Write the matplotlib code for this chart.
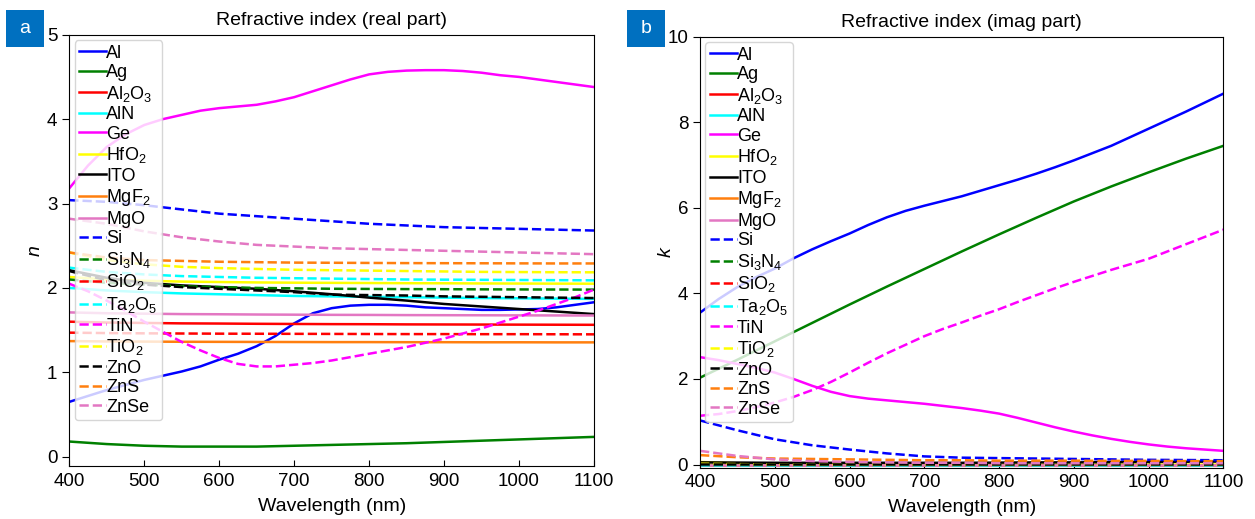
import matplotlib
matplotlib.use("Agg")
import matplotlib.pyplot as plt
from matplotlib.patches import Rectangle

plt.rcParams['font.family'] = ['Liberation Sans', 'DejaVu Sans']
plt.rcParams['mathtext.fontset'] = 'custom'
plt.rcParams['mathtext.rm'] = 'Liberation Sans'
plt.rcParams['mathtext.it'] = 'Liberation Sans:italic'

# wavelength grids (nm): 50 nm for the flat curves, 25 nm for the curvy ones
wl = [400, 450, 500, 550, 600, 650, 700, 750, 800, 850, 900, 950, 1000, 1050, 1100]
wl_f = [400, 425, 450, 475, 500, 525, 550, 575, 600, 625, 650, 675, 700, 725, 750,
        775, 800, 825, 850, 875, 900, 925, 950, 975, 1000, 1025, 1050, 1075, 1100]

materials = ['Al', 'Ag', 'Al$_2$O$_3$', 'AlN', 'Ge', 'HfO$_2$', 'ITO', 'MgF$_2$', 'MgO',
             'Si', 'Si$_3$N$_4$', 'SiO$_2$', 'Ta$_2$O$_5$', 'TiN', 'TiO$_2$', 'ZnO', 'ZnS', 'ZnSe']

# real part n
n_Al = [0.65, 0.72, 0.79, 0.85, 0.91, 0.96, 1.01, 1.07, 1.15, 1.22, 1.31, 1.43, 1.58, 1.70, 1.76,
        1.79, 1.80, 1.80, 1.79, 1.77, 1.76, 1.75, 1.74, 1.74, 1.745, 1.75, 1.77, 1.80, 1.83]
n_Ag = [0.18, 0.15, 0.13, 0.12, 0.12, 0.12, 0.13, 0.14, 0.15, 0.16, 0.175, 0.19, 0.205, 0.22, 0.235]
n_Al2O3 = [1.60, 1.59, 1.585, 1.58, 1.578, 1.575, 1.573, 1.571, 1.57, 1.568, 1.567, 1.566, 1.565, 1.564, 1.563]
n_AlN = [2.00, 1.97, 1.95, 1.935, 1.925, 1.915, 1.905, 1.90, 1.895, 1.89, 1.885, 1.88, 1.877, 1.873, 1.87]
n_Ge = [3.18, 3.45, 3.67, 3.82, 3.93, 4.00, 4.05, 4.10, 4.13, 4.15, 4.17, 4.21, 4.26, 4.33, 4.40,
        4.47, 4.53, 4.56, 4.575, 4.58, 4.58, 4.57, 4.55, 4.52, 4.50, 4.47, 4.44, 4.41, 4.38]
n_HfO2 = [2.13, 2.10, 2.085, 2.075, 2.07, 2.065, 2.062, 2.06, 2.058, 2.056, 2.055, 2.053, 2.052, 2.051, 2.05]
n_ITO = [2.21, 2.12, 2.06, 2.03, 2.01, 1.99, 1.96, 1.925, 1.885, 1.85, 1.81, 1.78, 1.75, 1.72, 1.69]
n_MgF2 = [1.37, 1.366, 1.364, 1.362, 1.361, 1.36, 1.359, 1.358, 1.358, 1.357, 1.357, 1.356, 1.356, 1.355, 1.355]
n_MgO = [1.71, 1.70, 1.695, 1.69, 1.688, 1.685, 1.683, 1.681, 1.68, 1.678, 1.677, 1.676, 1.675, 1.674, 1.673]
n_Si = [3.04, 3.02, 2.98, 2.93, 2.88, 2.85, 2.82, 2.79, 2.76, 2.74, 2.72, 2.71, 2.70, 2.69, 2.68]
n_Si3N4 = [2.10, 2.06, 2.04, 2.02, 2.01, 2.0, 1.995, 1.99, 1.988, 1.986, 1.985, 1.983, 1.982, 1.981, 1.98]
n_SiO2 = [1.47, 1.465, 1.462, 1.46, 1.458, 1.457, 1.456, 1.455, 1.454, 1.453, 1.453, 1.452, 1.452, 1.451, 1.45]
n_Ta2O5 = [2.24, 2.19, 2.16, 2.14, 2.13, 2.12, 2.115, 2.11, 2.105, 2.10, 2.098, 2.096, 2.094, 2.092, 2.09]
n_TiN = [2.05, 1.96, 1.85, 1.73, 1.60, 1.48, 1.36, 1.26, 1.17, 1.10, 1.07, 1.07, 1.09, 1.11, 1.14,
         1.18, 1.22, 1.26, 1.30, 1.35, 1.40, 1.46, 1.52, 1.59, 1.66, 1.73, 1.81, 1.89, 1.98]
n_TiO2 = [2.42, 2.33, 2.28, 2.25, 2.235, 2.225, 2.215, 2.21, 2.205, 2.20, 2.195, 2.19, 2.188, 2.186, 2.185]
n_ZnO = [2.20, 2.09, 2.04, 2.01, 1.99, 1.97, 1.95, 1.92, 1.915, 1.91, 1.90, 1.895, 1.89, 1.885, 1.88]
n_ZnS = [2.42, 2.36, 2.33, 2.32, 2.31, 2.305, 2.30, 2.298, 2.296, 2.294, 2.293, 2.292, 2.291, 2.29, 2.29]
n_ZnSe = [2.82, 2.76, 2.67, 2.60, 2.55, 2.51, 2.49, 2.47, 2.46, 2.45, 2.44, 2.43, 2.42, 2.41, 2.40]

# imaginary part k
k_Al = [3.55, 3.87, 4.15, 4.38, 4.58, 4.82, 5.03, 5.22, 5.40, 5.60, 5.78, 5.93, 6.05, 6.16, 6.27,
        6.40, 6.53, 6.66, 6.80, 6.95, 7.11, 7.28, 7.45, 7.65, 7.85, 8.05, 8.25, 8.46, 8.67]
k_Ag = [2.03, 2.45, 2.88, 3.31, 3.74, 4.16, 4.57, 4.98, 5.38, 5.77, 6.15, 6.50, 6.83, 7.15, 7.45]
k_Al2O3 = [0.0] * 15
k_AlN = [0.0] * 15
k_Ge = [2.51, 2.44, 2.35, 2.26, 2.15, 2.00, 1.84, 1.70, 1.60, 1.54, 1.50, 1.46, 1.42, 1.37, 1.32,
        1.26, 1.19, 1.09, 0.98, 0.87, 0.77, 0.68, 0.60, 0.53, 0.47, 0.42, 0.38, 0.35, 0.32]
k_HfO2 = [0.06, 0.03, 0.01, 0.005, 0.0, 0.0, 0.0, 0.0, 0.0, 0.0, 0.0, 0.0, 0.0, 0.0, 0.0]
k_ITO = [0.05, 0.045, 0.04, 0.04, 0.04, 0.04, 0.04, 0.04, 0.045, 0.05, 0.05, 0.055, 0.06, 0.065, 0.07]
k_MgF2 = [0.0] * 15
k_MgO = [0.0] * 15
k_Si = [1.03, 0.80, 0.59, 0.45, 0.35, 0.26, 0.19, 0.16, 0.15, 0.14, 0.13, 0.12, 0.11, 0.105, 0.10]
k_Si3N4 = [0.01] * 15
k_SiO2 = [0.0] * 15
k_Ta2O5 = [0.0] * 15
k_TiN = [1.14, 1.18, 1.25, 1.34, 1.45, 1.58, 1.74, 1.93, 2.15, 2.38, 2.60, 2.80, 3.00, 3.17, 3.32,
         3.48, 3.63, 3.80, 3.96, 4.12, 4.27, 4.41, 4.55, 4.68, 4.81, 4.98, 5.15, 5.32, 5.49]
k_TiO2 = [0.02, 0.01, 0.0, 0.0, 0.0, 0.0, 0.0, 0.0, 0.0, 0.0, 0.0, 0.0, 0.0, 0.0, 0.0]
k_ZnO = [0.02] * 15
k_ZnS = [0.22, 0.17, 0.14, 0.13, 0.12, 0.11, 0.10, 0.10, 0.09, 0.09, 0.09, 0.085, 0.085, 0.08, 0.08]
k_ZnSe = [0.32, 0.20, 0.12, 0.08, 0.06, 0.05, 0.04, 0.04, 0.03, 0.03, 0.03, 0.03, 0.03, 0.03, 0.03]

n_all = [n_Al, n_Ag, n_Al2O3, n_AlN, n_Ge, n_HfO2, n_ITO, n_MgF2, n_MgO,
         n_Si, n_Si3N4, n_SiO2, n_Ta2O5, n_TiN, n_TiO2, n_ZnO, n_ZnS, n_ZnSe]
k_all = [k_Al, k_Ag, k_Al2O3, k_AlN, k_Ge, k_HfO2, k_ITO, k_MgF2, k_MgO,
         k_Si, k_Si3N4, k_SiO2, k_Ta2O5, k_TiN, k_TiO2, k_ZnO, k_ZnS, k_ZnSe]

base_colors = ['#0000ff', '#008000', '#ff0000', '#00ffff', '#ff00ff', '#ffff00',
               '#000000', '#ff7f0e', '#e377c2']
colors = base_colors + base_colors
styles = ['-'] * 9 + ['--'] * 9

fig = plt.figure(figsize=(12.55, 5.19), dpi=100)
ax1 = fig.add_axes([0.0552, 0.1021, 0.4181, 0.831])
ax2 = fig.add_axes([0.5578, 0.0992, 0.417, 0.830])


def draw(ax, data, ylim, yticks, ylabel, label_x, title):
    for vals, lab, c, ls in zip(data, materials, colors, styles):
        x = wl if len(vals) == len(wl) else wl_f
        ax.plot(x, vals, color=c, linestyle=ls, linewidth=1.8, label=lab)
    ax.set_xlim(400, 1100)
    ax.set_ylim(*ylim)
    ax.set_yticks(yticks)
    ax.set_xticks([400, 500, 600, 700, 800, 900, 1000, 1100])
    ax.tick_params(axis='x', direction='in', length=4, labelsize=13.5, pad=5)
    ax.tick_params(axis='y', direction='out', length=5, labelsize=13.5)
    ax.set_xlabel('Wavelength (nm)', fontsize=14, labelpad=5.5)
    ax.set_ylabel(ylabel, fontsize=14, style='italic')
    ax.yaxis.set_label_coords(label_x, 0.5)
    ax.set_title(title, fontsize=14, pad=7)
    ax.legend(loc='upper left', fontsize=13, labelspacing=0.14, handlelength=1.5,
              handletextpad=0.0, borderpad=0.25, borderaxespad=0.3, framealpha=0.8)


draw(ax1, n_all, (-0.11, 5), [0, 1, 2, 3, 4, 5], 'n', -0.049, 'Refractive index (real part)')
draw(ax2, k_all, (-0.07, 10), [0, 2, 4, 6, 8, 10], 'k', -0.048, 'Refractive index (imag part)')

# panel labels
for x0, letter in [(6, 'a'), (627, 'b')]:
    fig.add_artist(Rectangle((x0 / 1255, 1 - 47 / 519), 38 / 1255, 37 / 519,
                             transform=fig.transFigure, facecolor='#0070c0', edgecolor='none'))
    fig.text((x0 + 19) / 1255, 1 - 28.5 / 519, letter, color='white', fontsize=14,
             ha='center', va='center')

fig.savefig('out.png', dpi=100)
